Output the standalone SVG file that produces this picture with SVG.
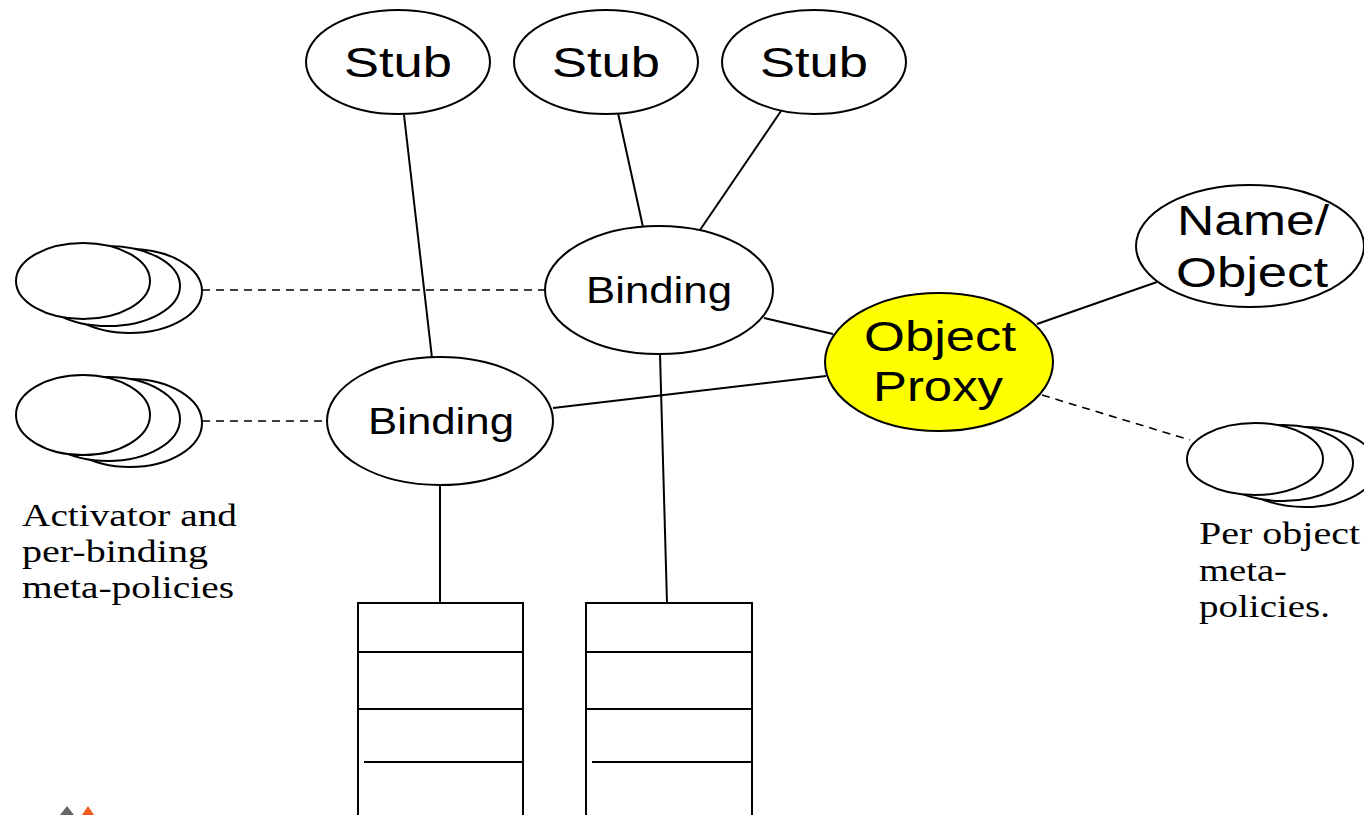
<svg xmlns="http://www.w3.org/2000/svg" width="1364" height="815" viewBox="0 0 1364 815">
<style>
.n{fill:#fff;stroke:#000;stroke-width:2}
.y{fill:#ffff00;stroke:#000;stroke-width:2}
.c{stroke:#000;stroke-width:2;fill:none}
.d{stroke:#000;stroke-width:1.6;fill:none;stroke-dasharray:8,6}
.s{font-family:"Liberation Sans",Arial,sans-serif;fill:#000;text-anchor:middle}
.t{font-family:"Liberation Serif","Times New Roman",serif;fill:#000;font-size:31px}
</style>
<rect width="1364" height="815" fill="#fff"/>
<g id="connectors">
<line class="c" x1="404" y1="115" x2="432" y2="358"/>
<line class="c" x1="618" y1="113" x2="643" y2="227"/>
<line class="c" x1="781" y1="111" x2="700" y2="230"/>
<line class="c" x1="764" y1="318" x2="833" y2="334"/>
<line class="c" x1="553" y1="408" x2="826" y2="376"/>
<line class="c" x1="1037" y1="324" x2="1157" y2="282"/>
<line class="c" x1="440" y1="486" x2="440" y2="603"/>
<line class="c" x1="660" y1="354" x2="667" y2="603"/>
<line class="d" x1="202" y1="290" x2="544" y2="290"/>
<line class="d" x1="202" y1="421" x2="327" y2="421"/>
<line class="d" x1="1042" y1="395" x2="1190" y2="440"/>
</g>
<g id="stub1"><ellipse class="n" cx="398" cy="62" rx="92" ry="52"/><text class="s" x="398" y="77" font-size="42" textLength="108" lengthAdjust="spacingAndGlyphs">Stub</text></g>
<g id="stub2"><ellipse class="n" cx="606" cy="62" rx="92" ry="52"/><text class="s" x="606" y="77" font-size="42" textLength="108" lengthAdjust="spacingAndGlyphs">Stub</text></g>
<g id="stub3"><ellipse class="n" cx="814" cy="62" rx="92" ry="52"/><text class="s" x="814" y="77" font-size="42" textLength="108" lengthAdjust="spacingAndGlyphs">Stub</text></g>
<g id="binding-top"><ellipse class="n" cx="659" cy="290" rx="114" ry="64"/><text class="s" x="659" y="303" font-size="36" textLength="146" lengthAdjust="spacingAndGlyphs">Binding</text></g>
<g id="binding-low"><ellipse class="n" cx="440" cy="421" rx="113" ry="64"/><text class="s" x="441" y="434" font-size="36" textLength="146" lengthAdjust="spacingAndGlyphs">Binding</text></g>
<g id="object-proxy"><ellipse class="y" cx="939" cy="362" rx="114" ry="69"/>
<text class="s" x="940" y="351" font-size="42" textLength="152" lengthAdjust="spacingAndGlyphs">Object</text>
<text class="s" x="938" y="401" font-size="42" textLength="130" lengthAdjust="spacingAndGlyphs">Proxy</text></g>
<g id="name-object"><ellipse class="n" cx="1250" cy="246" rx="114" ry="61"/>
<text class="s" x="1253" y="235" font-size="42" textLength="152" lengthAdjust="spacingAndGlyphs">Name/</text>
<text class="s" x="1252" y="287" font-size="42" textLength="152" lengthAdjust="spacingAndGlyphs">Object</text></g>
<g id="activator-top">
<ellipse class="n" cx="130" cy="291" rx="72" ry="42"/>
<ellipse class="n" cx="108" cy="286" rx="72" ry="40"/>
<ellipse class="n" cx="83" cy="281" rx="67" ry="38"/>
</g>
<g id="activator-low">
<ellipse class="n" cx="130" cy="423" rx="72" ry="44"/>
<ellipse class="n" cx="108" cy="419" rx="72" ry="42"/>
<ellipse class="n" cx="83" cy="415" rx="67" ry="40"/>
</g>
<g id="per-object">
<ellipse class="n" cx="1305" cy="467" rx="72" ry="40"/>
<ellipse class="n" cx="1283" cy="463" rx="70" ry="38"/>
<ellipse class="n" cx="1255" cy="459" rx="68" ry="36"/>
</g>
<g id="label-activator">
<text class="t" x="22" y="526" textLength="215" lengthAdjust="spacingAndGlyphs">Activator and</text>
<text class="t" x="22" y="562" textLength="186" lengthAdjust="spacingAndGlyphs">per-binding</text>
<text class="t" x="22" y="598" textLength="212" lengthAdjust="spacingAndGlyphs">meta-policies</text>
</g>
<g id="label-per-object">
<text class="t" x="1199" y="544" textLength="161" lengthAdjust="spacingAndGlyphs">Per object</text>
<text class="t" x="1199" y="581" textLength="88" lengthAdjust="spacingAndGlyphs">meta-</text>
<text class="t" x="1199" y="617" textLength="131" lengthAdjust="spacingAndGlyphs">policies.</text>
</g>
<g id="table1">
<polyline class="c" points="358,816 358,603 523,603 523,816"/>
<line class="c" x1="358" y1="652" x2="523" y2="652"/>
<line class="c" x1="358" y1="709" x2="523" y2="709"/>
<line class="c" x1="364" y1="762" x2="523" y2="762"/>
</g>
<g id="table2">
<polyline class="c" points="586,816 586,603 752,603 752,816"/>
<line class="c" x1="586" y1="652" x2="752" y2="652"/>
<line class="c" x1="586" y1="709" x2="752" y2="709"/>
<line class="c" x1="592" y1="762" x2="752" y2="762"/>
</g>
<g id="logo">
<polygon points="60,815 67,806 74,815" fill="#666"/>
<polygon points="82,815 88,806 94,815" fill="#f05a22"/>
</g>
</svg>
